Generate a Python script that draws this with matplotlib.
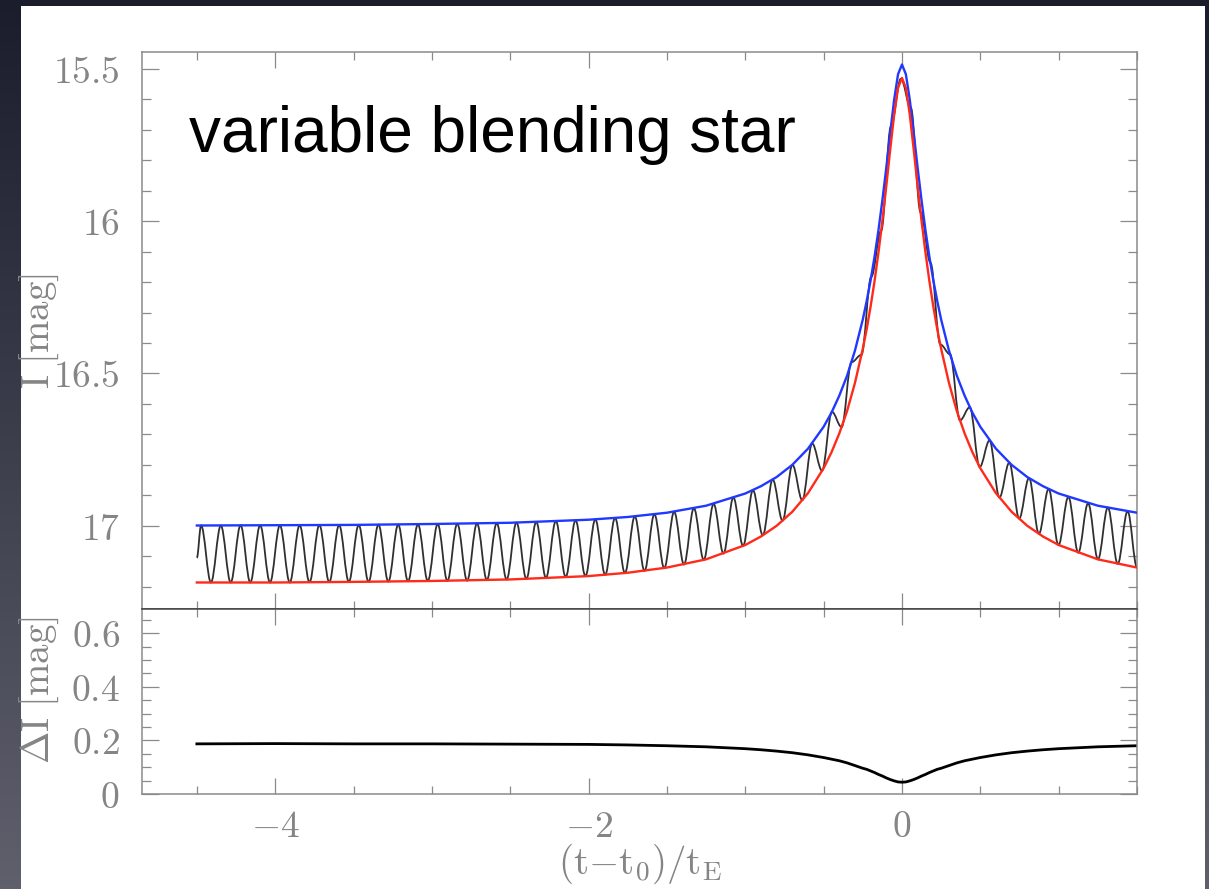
import matplotlib
matplotlib.use('Agg')
import matplotlib.pyplot as plt
from matplotlib.colors import LinearSegmentedColormap
from matplotlib.patches import Rectangle, PathPatch
from matplotlib.path import Path
from matplotlib.ticker import MultipleLocator
import numpy as np

plt.rcParams['mathtext.fontset'] = 'cm'

# times (t-t0)/tE where the two envelopes were read
env_t = [-4.5, -4.0, -3.5, -3.0, -2.5, -2.0, -1.75, -1.5, -1.25, -1.0,
         -0.9, -0.8, -0.7, -0.6, -0.5, -0.45, -0.4, -0.35, -0.3, -0.25,
         -0.225, -0.2, -0.175, -0.15, -0.125, -0.1, -0.075, -0.05, -0.025,
         0.0,
         0.025, 0.05, 0.075, 0.1, 0.125, 0.15, 0.175, 0.2, 0.225, 0.25,
         0.3, 0.35, 0.4, 0.45, 0.5, 0.6, 0.7, 0.8, 0.9, 1.0, 1.25, 1.5]

# bright envelope (blue)
blue_mag = [16.999, 16.998, 16.997, 16.994, 16.990, 16.980, 16.971, 16.957, 16.934, 16.894,
            16.870, 16.840, 16.800, 16.747, 16.675, 16.629, 16.573, 16.507, 16.425, 16.323,
            16.262, 16.194, 16.117, 16.030, 15.932, 15.825, 15.711, 15.602, 15.518,
            15.486,
            15.518, 15.602, 15.711, 15.825, 15.932, 16.030, 16.117, 16.194, 16.262, 16.323,
            16.425, 16.507, 16.573, 16.629, 16.675, 16.747, 16.800, 16.840, 16.870, 16.894,
            16.934, 16.957]

# faint envelope (red)
red_mag = [17.186, 17.186, 17.184, 17.181, 17.176, 17.165, 17.154, 17.137, 17.110, 17.063,
           17.035, 17.000, 16.954, 16.893, 16.811, 16.759, 16.697, 16.623, 16.531, 16.419,
           16.354, 16.280, 16.197, 16.103, 15.999, 15.885, 15.765, 15.651, 15.563,
           15.530,
           15.563, 15.651, 15.765, 15.885, 15.999, 16.103, 16.197, 16.280, 16.354, 16.419,
           16.531, 16.623, 16.697, 16.759, 16.811, 16.893, 16.954, 17.000, 17.035, 17.063,
           17.110, 17.137]

# amplitude of the variation, lower panel
delta_mag = [0.187, 0.188, 0.187, 0.187, 0.186, 0.185, 0.183, 0.180, 0.176, 0.169,
             0.165, 0.160, 0.154, 0.146, 0.136, 0.130, 0.124, 0.116, 0.106, 0.096,
             0.092, 0.086, 0.080, 0.073, 0.067, 0.060, 0.054, 0.049, 0.045,
             0.044,
             0.045, 0.049, 0.054, 0.060, 0.067, 0.073, 0.080, 0.086, 0.092, 0.096,
             0.106, 0.116, 0.124, 0.130, 0.136, 0.146, 0.154, 0.160, 0.165, 0.169,
             0.176, 0.180]

# maxima / minima of the oscillating light curve (black)
peak_t = [-4.473, -4.347, -4.221, -4.096, -3.970, -3.844, -3.718, -3.592, -3.467, -3.341,
          -3.215, -3.089, -2.963, -2.838, -2.712, -2.586, -2.460, -2.334, -2.209, -2.083,
          -1.957, -1.831, -1.705, -1.580, -1.454, -1.328, -1.202, -1.076, -0.951, -0.825,
          -0.699, -0.573, -0.447, -0.322, -0.196, -0.070, 0.056, 0.182, 0.307, 0.433,
          0.559, 0.685, 0.811, 0.936, 1.062, 1.188, 1.314, 1.440]
peak_mag = [16.999, 16.999, 16.998, 16.998, 16.998, 16.998, 16.997, 16.997, 16.997, 16.996,
            16.996, 16.995, 16.994, 16.993, 16.992, 16.991, 16.989, 16.987, 16.984, 16.982,
            16.979, 16.974, 16.969, 16.962, 16.954, 16.942, 16.928, 16.907, 16.883, 16.848,
            16.800, 16.730, 16.626, 16.463, 16.183, 15.689, 15.627, 16.137, 16.437, 16.611,
            16.720, 16.793, 16.843, 16.879, 16.905, 16.926, 16.940, 16.952]
trough_t = [-4.410, -4.284, -4.159, -4.033, -3.907, -3.781, -3.655, -3.530, -3.404, -3.278,
            -3.152, -3.026, -2.901, -2.775, -2.649, -2.523, -2.397, -2.272, -2.146, -2.020,
            -1.894, -1.768, -1.643, -1.517, -1.391, -1.265, -1.139, -1.014, -0.888, -0.762,
            -0.636, -0.510, -0.385, -0.259, -0.133, -0.007, 0.119, 0.245, 0.370, 0.496,
            0.622, 0.748, 0.874, 0.999, 1.125, 1.251, 1.377]
trough_mag = [17.186, 17.186, 17.186, 17.186, 17.186, 17.185, 17.185, 17.184, 17.184, 17.183,
              17.182, 17.181, 17.181, 17.180, 17.178, 17.176, 17.174, 17.171, 17.168, 17.165,
              17.161, 17.155, 17.148, 17.139, 17.127, 17.112, 17.091, 17.066, 17.031, 16.983,
              16.916, 16.819, 16.676, 16.439, 16.032, 15.533, 15.971, 16.405, 16.654, 16.807,
              16.907, 16.976, 17.026, 17.063, 17.088, 17.110, 17.125]
start_t, start_mag = -4.5, 17.105
end_t, end_mag = 1.5, 17.136

top_ticks = [15.5, 16, 16.5, 17]
top_labels = [r'$15.5$', r'$16$', r'$16.5$', r'$17$']
low_ticks = [0, 0.2, 0.4, 0.6]
low_labels = [r'$0$', r'$0.2$', r'$0.4$', r'$0.6$']
x_ticks = [-4, -2, 0]
x_labels = [r'$-4$', r'$-2$', r'$0$']

# black curve: peak, trough, peak ... joined by smooth (flat at the turns) curves
osc_t = [start_t]
osc_m = [start_mag]
for i in range(len(peak_t)):
    osc_t.append(peak_t[i])
    osc_m.append(peak_mag[i])
    if i < len(trough_t):
        osc_t.append(trough_t[i])
        osc_m.append(trough_mag[i])
osc_t.append(end_t)
osc_m.append(end_mag)

k = 0.3634
verts = [(osc_t[0], osc_m[0])]
codes = [Path.MOVETO]
for i in range(1, len(osc_t)):
    dt = osc_t[i] - osc_t[i - 1]
    verts += [(osc_t[i - 1] + k * dt, osc_m[i - 1]),
              (osc_t[i] - k * dt, osc_m[i]),
              (osc_t[i], osc_m[i])]
    codes += [Path.CURVE4] * 3

gray = '#8a8a8a'
txt_gray = '#858585'
fig = plt.figure(figsize=(12.09, 8.89), dpi=100)

# slide background + white card
bg = fig.add_axes([0, 0, 1, 1], zorder=-5)
cmap = LinearSegmentedColormap.from_list('slide', ['#1b1d2d', '#5f606c'])
bg.imshow(np.linspace(0, 1, 256).reshape(-1, 1), cmap=cmap, aspect='auto',
          extent=[0, 1209, 889, 0])
bg.add_patch(Rectangle((21, 6), 1184, 883, facecolor='white', edgecolor='none'))
bg.set_xlim(0, 1209)
bg.set_ylim(889, 0)
bg.axis('off')

L = 142 / 1209
W = 995 / 1209
ax1 = fig.add_axes([L, 1 - 609 / 889, W, 557 / 889])
ax2 = fig.add_axes([L, 1 - 794 / 889, W, 185 / 889])

ax1.add_patch(PathPatch(Path(verts, codes), facecolor='none', edgecolor='#303030',
                        lw=1.3, zorder=2))
ax1.plot(env_t, blue_mag, color='#2038ff', lw=1.7, zorder=3)
ax1.plot(env_t, red_mag, color='#ff2a1a', lw=1.7, zorder=3)
ax1.set_xlim(-4.85, 1.5)
ax1.set_ylim(17.273, 15.445)
ax1.set_yticks(top_ticks)
ax1.set_yticklabels(top_labels)
ax1.yaxis.set_minor_locator(MultipleLocator(0.1))

ax2.plot(env_t, delta_mag, color='black', lw=2)
ax2.set_xlim(-4.85, 1.5)
ax2.set_ylim(0, 0.69)
ax2.set_yticks(low_ticks)
ax2.set_yticklabels(low_labels)
ax2.yaxis.set_minor_locator(MultipleLocator(0.05))
ax2.set_xticks(x_ticks)
ax2.set_xticklabels(x_labels)

for ax in (ax1, ax2):
    ax.set_xticks(x_ticks)
    ax.xaxis.set_minor_locator(MultipleLocator(0.5))
    ax.tick_params(which='both', direction='in', top=True, right=True,
                   color=gray, labelcolor=txt_gray, labelsize=27, width=0.9)
    ax.tick_params(axis='y', which='major', length=12.5, pad=16)
    ax.tick_params(axis='y', which='minor', length=6.5)
    ax.tick_params(axis='x', which='major', length=11.5, pad=11)
    ax.tick_params(axis='x', which='minor', length=6)
    for s in ax.spines.values():
        s.set_color(gray)
        s.set_linewidth(1.1)

ax1.tick_params(labelbottom=False)
ax1.spines['bottom'].set_color('#444444')
ax2.spines['top'].set_color('#444444')

fig.text(189 / 1209, 1 - 152 / 889, 'variable blending star', fontsize=46,
         family=['Liberation Sans', 'DejaVu Sans'], ha='left', va='baseline', color='black')
fig.text(39 / 1209, 1 - 331 / 889, r'$\mathrm{I\ [mag]}$', rotation=90,
         ha='center', va='center', fontsize=28, color=txt_gray)
fig.text(39 / 1209, 1 - 690 / 889, r'$\Delta\mathrm{I\ [mag]}$', rotation=90,
         ha='center', va='center', fontsize=28, color=txt_gray)
fig.text(640 / 1209, 1 - 864 / 889, r'$\mathrm{(t{-}t_0)/t_E}$',
         ha='center', va='center', fontsize=28, color=txt_gray)

fig.savefig('out.png', dpi=100)
